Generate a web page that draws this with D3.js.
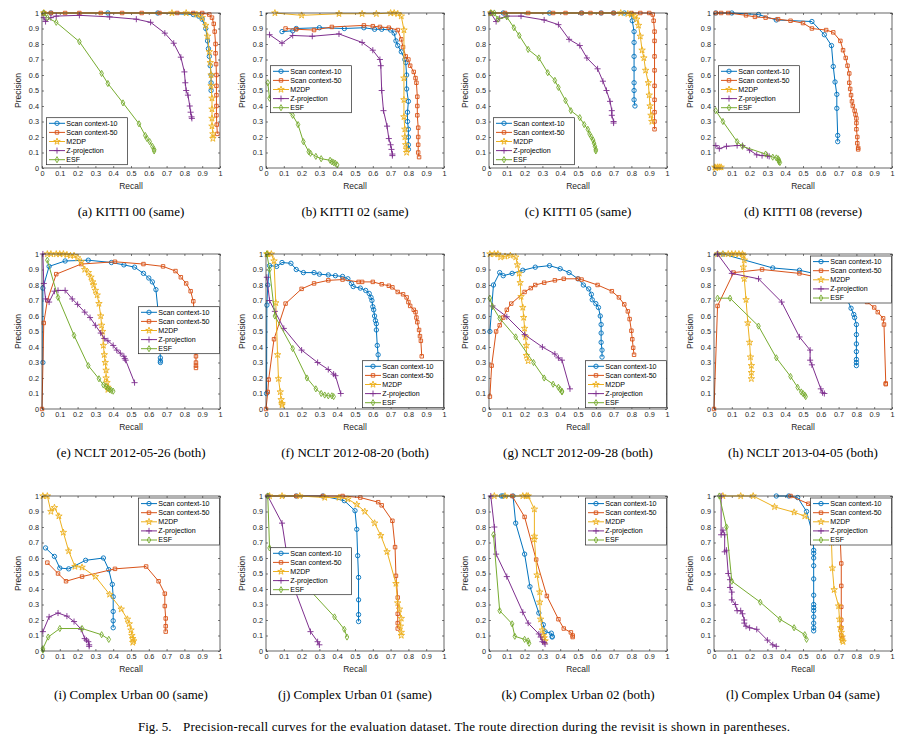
<!DOCTYPE html>
<html><head><meta charset="utf-8">
<script src="https://cdn.jsdelivr.net/npm/d3@7"></script>
<style>body{margin:0;background:#fff}svg{display:block}</style>
</head><body>
<svg id="chart" width="917" height="737"></svg>
<script>
// ---------- data ----------
const seriesNames = ["Scan context-10","Scan context-50","M2DP","Z-projection","ESF"];
const tickValues = [0,0.1,0.2,0.3,0.4,0.5,0.6,0.7,0.8,0.9,1];
const tickLabels = ["0","0.1","0.2","0.3","0.4","0.5","0.6","0.7","0.8","0.9","1"];
const captions = ["(a) KITTI 00 (same)","(b) KITTI 02 (same)","(c) KITTI 05 (same)","(d) KITTI 08 (reverse)",
 "(e) NCLT 2012-05-26 (both)","(f) NCLT 2012-08-20 (both)","(g) NCLT 2012-09-28 (both)","(h) NCLT 2013-04-05 (both)",
 "(i) Complex Urban 00 (same)","(j) Complex Urban 01 (same)","(k) Complex Urban 02 (both)","(l) Complex Urban 04 (same)"];
const figLabel = "Fig. 5.";
const figCaption = "Precision-recall curves for the evaluation dataset. The route direction during the revisit is shown in parentheses.";

// (a) KITTI 00
const a_sc10 = [[0.01,1],[0.05,1],[0.37,1],[0.65,1],[0.85,0.99],[0.88,0.98],[0.9,0.96],[0.92,0.9],[0.93,0.82],[0.935,0.77],[0.94,0.72],[0.945,0.66],[0.95,0.6],[0.95,0.55],[0.95,0.5]];
const a_sc50 = [[0.01,1],[0.05,1],[0.13,1],[0.21,1],[0.33,1],[0.45,1],[0.56,1],[0.66,1],[0.76,1],[0.85,1],[0.9,1],[0.94,0.99],[0.955,0.97],[0.965,0.93],[0.97,0.88],[0.975,0.8],[0.975,0.74],[0.978,0.67],[0.98,0.6],[0.98,0.53],[0.98,0.47],[0.98,0.4],[0.98,0.34],[0.982,0.28],[0.985,0.22]];
const a_m2dp = [[0.01,1],[0.73,1],[0.81,1],[0.87,0.99],[0.9,0.97],[0.92,0.92],[0.93,0.85],[0.94,0.75],[0.945,0.68],[0.95,0.6],[0.95,0.53],[0.955,0.45],[0.955,0.38],[0.955,0.32],[0.955,0.27],[0.96,0.22],[0.96,0.19]];
const a_zproj = [[0.01,0.97],[0.02,0.945],[0.05,0.97],[0.08,0.98],[0.21,0.985],[0.38,0.975],[0.53,0.96],[0.61,0.94],[0.69,0.87],[0.74,0.805],[0.78,0.715],[0.8,0.62],[0.805,0.55],[0.81,0.5],[0.82,0.47],[0.83,0.4],[0.835,0.36],[0.84,0.33],[0.842,0.32]];
const a_esf = [[0.01,1],[0.03,0.97],[0.08,0.94],[0.21,0.815],[0.335,0.61],[0.37,0.545],[0.455,0.42],[0.545,0.285],[0.58,0.21],[0.59,0.19],[0.605,0.17],[0.62,0.14],[0.63,0.12],[0.63,0.11]];
// (b) KITTI 02
const b_sc10 = [[0.09,0.88],[0.15,0.885],[0.17,0.9],[0.3,0.905],[0.44,0.9],[0.55,0.905],[0.61,0.895],[0.65,0.895],[0.7,0.89],[0.72,0.87],[0.73,0.82],[0.74,0.79],[0.76,0.75],[0.78,0.7],[0.785,0.68],[0.79,0.6],[0.79,0.51],[0.8,0.43],[0.795,0.36],[0.795,0.3],[0.8,0.25],[0.8,0.2],[0.8,0.15],[0.8,0.12]];
const b_sc50 = [[0.11,0.9],[0.17,0.895],[0.27,0.89],[0.37,0.91],[0.55,0.92],[0.6,0.915],[0.64,0.91],[0.69,0.905],[0.74,0.89],[0.76,0.83],[0.77,0.78],[0.785,0.72],[0.8,0.7],[0.81,0.66],[0.83,0.62],[0.84,0.58],[0.845,0.55],[0.85,0.46],[0.85,0.4],[0.85,0.34],[0.855,0.26],[0.855,0.2],[0.855,0.15],[0.855,0.1],[0.86,0.07]];
const b_m2dp = [[0.05,1],[0.2,0.985],[0.41,0.995],[0.54,0.995],[0.62,0.995],[0.7,1],[0.72,1],[0.74,0.995],[0.76,0.98],[0.775,0.89],[0.775,0.58],[0.775,0.44],[0.775,0.33],[0.78,0.25],[0.78,0.2],[0.785,0.15],[0.79,0.12],[0.79,0.1]];
const b_zproj = [[0.02,0.86],[0.09,0.805],[0.15,0.855],[0.26,0.85],[0.41,0.865],[0.54,0.81],[0.6,0.76],[0.64,0.7],[0.645,0.66],[0.65,0.5],[0.66,0.37],[0.68,0.27],[0.69,0.19],[0.7,0.15],[0.705,0.12],[0.71,0.09],[0.71,0.08]];
const b_esf = [[0.01,0.55],[0.02,0.45],[0.15,0.34],[0.18,0.28],[0.21,0.17],[0.24,0.105],[0.25,0.095],[0.28,0.075],[0.31,0.06],[0.36,0.05],[0.37,0.04],[0.38,0.035],[0.39,0.03],[0.4,0.02]];
// (c) KITTI 05
const c_sc10 = [[0.01,1],[0.08,1],[0.34,1],[0.52,1],[0.63,1],[0.7,1],[0.76,1],[0.8,0.995],[0.805,0.95],[0.815,0.88],[0.815,0.81],[0.815,0.72],[0.815,0.64],[0.815,0.55],[0.815,0.5],[0.815,0.44],[0.82,0.4]];
const c_sc50 = [[0.01,1],[0.09,1],[0.22,1],[0.36,1],[0.43,1],[0.52,1],[0.57,1],[0.63,1],[0.7,1],[0.8,1],[0.85,1],[0.9,1],[0.92,0.99],[0.925,0.95],[0.93,0.88],[0.93,0.82],[0.93,0.72],[0.93,0.63],[0.93,0.53],[0.93,0.44],[0.93,0.36],[0.93,0.3],[0.93,0.25]];
const c_m2dp = [[0.01,1],[0.74,1],[0.78,0.995],[0.8,0.99],[0.82,0.98],[0.83,0.96],[0.84,0.92],[0.85,0.85],[0.86,0.76],[0.87,0.71],[0.88,0.63],[0.895,0.55],[0.9,0.47],[0.905,0.4],[0.91,0.34],[0.915,0.3]];
const c_zproj = [[0.01,1],[0.04,0.945],[0.06,0.965],[0.1,0.98],[0.18,0.98],[0.31,0.955],[0.39,0.925],[0.45,0.83],[0.51,0.79],[0.55,0.71],[0.61,0.64],[0.64,0.56],[0.66,0.5],[0.68,0.43],[0.69,0.37],[0.69,0.34],[0.7,0.3],[0.7,0.29]];
const c_esf = [[0.01,1],[0.03,1],[0.05,0.96],[0.1,0.975],[0.14,0.905],[0.17,0.855],[0.22,0.765],[0.28,0.71],[0.33,0.615],[0.37,0.565],[0.39,0.52],[0.43,0.435],[0.46,0.37],[0.51,0.325],[0.535,0.28],[0.555,0.25],[0.565,0.22],[0.575,0.2],[0.585,0.18],[0.59,0.16],[0.595,0.14],[0.6,0.12],[0.6,0.11]];
// (d) KITTI 08
const d_sc10 = [[0.01,1],[0.1,1],[0.25,0.99],[0.35,0.955],[0.55,0.945],[0.62,0.86],[0.66,0.79],[0.67,0.655],[0.68,0.555],[0.69,0.475],[0.69,0.385],[0.695,0.21],[0.695,0.17]];
const d_sc50 = [[0.01,1],[0.04,1],[0.08,1],[0.18,0.985],[0.23,0.975],[0.29,0.97],[0.36,0.96],[0.43,0.95],[0.5,0.935],[0.55,0.9],[0.63,0.89],[0.67,0.875],[0.71,0.82],[0.725,0.76],[0.74,0.71],[0.75,0.66],[0.76,0.61],[0.76,0.55],[0.765,0.51],[0.77,0.47],[0.775,0.43],[0.78,0.4],[0.79,0.37],[0.795,0.345],[0.8,0.32],[0.8,0.29],[0.8,0.25],[0.805,0.2],[0.805,0.16],[0.81,0.13],[0.81,0.12]];
const d_m2dp = [[0.005,0.005],[0.01,0],[0.02,0.005],[0.03,0.005],[0.04,0.005]];
const d_zproj = [[0.01,0.145],[0.03,0.125],[0.07,0.14],[0.13,0.145],[0.16,0.145],[0.2,0.115],[0.24,0.085],[0.27,0.08],[0.3,0.08],[0.31,0.075]];
const d_esf = [[0.01,0.37],[0.05,0.3],[0.13,0.17],[0.16,0.14],[0.29,0.09],[0.33,0.07],[0.35,0.065],[0.36,0.06],[0.365,0.05],[0.365,0.04],[0.37,0.035]];
// (e) NCLT 2012-05-26
const e_sc10 = [[0.005,0.3],[0.005,0.78],[0.04,0.92],[0.13,0.955],[0.26,0.96],[0.39,0.945],[0.46,0.93],[0.52,0.915],[0.57,0.875],[0.6,0.845],[0.62,0.82],[0.64,0.77],[0.655,0.6],[0.66,0.45],[0.665,0.33],[0.665,0.31],[0.665,0.3]];
const e_sc50 = [[0,0],[0.01,0.555],[0.03,0.7],[0.08,0.87],[0.22,0.935],[0.41,0.95],[0.57,0.935],[0.68,0.92],[0.75,0.89],[0.78,0.85],[0.81,0.81],[0.835,0.76],[0.85,0.695],[0.86,0.55],[0.865,0.34],[0.865,0.3],[0.865,0.28],[0.865,0.265]];
const e_m2dp = [[0.03,1],[0.05,1],[0.08,1],[0.1,1],[0.12,1],[0.14,0.995],[0.16,0.99],[0.18,0.99],[0.2,0.975],[0.22,0.95],[0.24,0.9],[0.26,0.88],[0.275,0.85],[0.285,0.82],[0.29,0.8],[0.3,0.765],[0.31,0.735],[0.32,0.68],[0.33,0.6],[0.335,0.54],[0.34,0.5],[0.345,0.41],[0.35,0.35],[0.355,0.3],[0.36,0.25],[0.36,0.2],[0.365,0.17],[0.37,0.14],[0.37,0.125]];
const e_zproj = [[0.005,1],[0.01,0.81],[0.02,0.71],[0.04,0.69],[0.07,0.76],[0.09,0.765],[0.13,0.765],[0.17,0.71],[0.2,0.675],[0.24,0.625],[0.27,0.59],[0.3,0.54],[0.33,0.49],[0.35,0.455],[0.37,0.44],[0.4,0.41],[0.42,0.38],[0.44,0.36],[0.46,0.34],[0.465,0.325],[0.47,0.315],[0.52,0.17]];
const e_esf = [[0.03,0.96],[0.09,0.72],[0.18,0.475],[0.26,0.28],[0.32,0.195],[0.345,0.155],[0.36,0.145],[0.37,0.135],[0.38,0.125],[0.39,0.12],[0.4,0.115]];
// (f) NCLT 2012-08-20
const f_sc10 = [[0.003,0.1],[0.005,0.67],[0.01,0.8],[0.02,0.925],[0.06,0.92],[0.09,0.945],[0.14,0.94],[0.17,0.9],[0.21,0.88],[0.27,0.88],[0.3,0.87],[0.35,0.865],[0.39,0.86],[0.43,0.855],[0.46,0.84],[0.48,0.81],[0.49,0.79],[0.53,0.78],[0.56,0.765],[0.58,0.745],[0.59,0.72],[0.595,0.7],[0.6,0.66],[0.605,0.64],[0.61,0.6],[0.615,0.57],[0.62,0.55],[0.62,0.51],[0.625,0.41],[0.63,0.35],[0.63,0.3]];
const f_sc50 = [[0,0],[0.01,0.11],[0.015,0.19],[0.045,0.45],[0.11,0.68],[0.2,0.775],[0.27,0.81],[0.35,0.83],[0.43,0.835],[0.52,0.82],[0.54,0.82],[0.6,0.82],[0.65,0.805],[0.69,0.795],[0.71,0.785],[0.74,0.755],[0.77,0.74],[0.79,0.72],[0.8,0.69],[0.81,0.665],[0.83,0.64],[0.84,0.625],[0.845,0.59],[0.85,0.56],[0.86,0.51],[0.865,0.47],[0.87,0.44],[0.875,0.34]];
const f_m2dp = [[0.005,1],[0.01,1],[0.03,1],[0.045,0.955],[0.055,0.685],[0.065,0.35],[0.07,0.195],[0.08,0.11],[0.085,0.06],[0.09,0.035],[0.09,0.025]];
const f_zproj = [[0.005,0.85],[0.02,0.7],[0.05,0.63],[0.1,0.52],[0.2,0.38],[0.29,0.3],[0.35,0.255],[0.38,0.225],[0.39,0.215],[0.42,0.1]];
const f_esf = [[0.005,1],[0.02,0.9],[0.05,0.6],[0.15,0.39],[0.23,0.2],[0.28,0.13],[0.31,0.1],[0.33,0.09],[0.35,0.085],[0.37,0.085],[0.38,0.08]];
// (g) NCLT 2012-09-28
const g_sc10 = [[0.005,0.5],[0.025,0.8],[0.06,0.88],[0.08,0.86],[0.13,0.875],[0.19,0.895],[0.26,0.915],[0.34,0.925],[0.4,0.905],[0.45,0.88],[0.5,0.84],[0.53,0.8],[0.56,0.775],[0.575,0.74],[0.58,0.705],[0.6,0.68],[0.615,0.655],[0.625,0.6],[0.63,0.545],[0.63,0.49],[0.63,0.43],[0.635,0.38],[0.635,0.335]];
const g_sc50 = [[0.005,0.08],[0.015,0.28],[0.04,0.5],[0.06,0.54],[0.08,0.59],[0.1,0.64],[0.125,0.68],[0.2,0.755],[0.235,0.78],[0.26,0.8],[0.31,0.815],[0.37,0.83],[0.42,0.84],[0.5,0.84],[0.52,0.835],[0.61,0.8],[0.69,0.76],[0.73,0.72],[0.76,0.675],[0.78,0.63],[0.79,0.58],[0.8,0.505],[0.805,0.45],[0.81,0.395],[0.815,0.35]];
const g_m2dp = [[0.005,1],[0.03,1],[0.05,1],[0.065,0.98],[0.09,0.985],[0.12,0.99],[0.15,0.98],[0.16,0.93],[0.17,0.875],[0.175,0.815],[0.18,0.725],[0.19,0.655],[0.195,0.59],[0.2,0.52],[0.205,0.465],[0.21,0.41],[0.21,0.345],[0.22,0.31]];
const g_zproj = [[0.02,0.665],[0.1,0.595],[0.2,0.48],[0.3,0.4],[0.37,0.355],[0.39,0.33],[0.41,0.315],[0.455,0.13]];
const g_esf = [[0.005,0.715],[0.02,0.66],[0.06,0.585],[0.15,0.465],[0.25,0.3],[0.31,0.2],[0.36,0.16],[0.39,0.14],[0.4,0.125],[0.41,0.115],[0.41,0.11]];
// (h) NCLT 2013-04-05
const h_sc10 = [[0.02,1],[0.05,1],[0.33,0.91],[0.48,0.895],[0.62,0.86],[0.72,0.78],[0.77,0.65],[0.785,0.61],[0.79,0.59],[0.8,0.545],[0.8,0.48],[0.8,0.42],[0.8,0.37],[0.8,0.32],[0.8,0.3],[0.8,0.28]];
const h_sc50 = [[0,0],[0.02,0.665],[0.11,0.88],[0.27,0.9],[0.48,0.875],[0.62,0.84],[0.78,0.75],[0.86,0.69],[0.9,0.655],[0.92,0.625],[0.95,0.585],[0.955,0.545],[0.965,0.165],[0.965,0.16]];
const h_m2dp = [[0.02,1],[0.05,1],[0.08,1],[0.1,1],[0.12,1],[0.14,1],[0.16,1],[0.165,0.99],[0.17,0.96],[0.165,0.915],[0.17,0.84],[0.18,0.705],[0.19,0.555],[0.2,0.43],[0.205,0.335],[0.21,0.28],[0.21,0.235],[0.21,0.195]];
const h_zproj = [[0.02,1],[0.1,0.875],[0.25,0.84],[0.38,0.69],[0.48,0.465],[0.54,0.38],[0.54,0.315],[0.55,0.285],[0.6,0.13],[0.61,0.105],[0.62,0.1]];
const h_esf = [[0.02,0.715],[0.09,0.715],[0.25,0.535],[0.35,0.33],[0.43,0.21],[0.47,0.14],[0.49,0.11],[0.5,0.1],[0.51,0.09],[0.515,0.08]];
// (i) Complex Urban 00
const i_sc10 = [[0.02,0.665],[0.07,0.61],[0.1,0.535],[0.15,0.53],[0.245,0.585],[0.345,0.6],[0.375,0.525],[0.395,0.43],[0.4,0.35],[0.4,0.255],[0.4,0.195],[0.4,0.15]];
const i_sc50 = [[0.03,0.57],[0.09,0.5],[0.135,0.45],[0.225,0.48],[0.41,0.53],[0.585,0.545],[0.655,0.45],[0.69,0.37],[0.69,0.29],[0.695,0.21],[0.695,0.16],[0.695,0.125]];
const i_m2dp = [[0.005,1],[0.03,1],[0.05,0.9],[0.07,0.925],[0.095,0.87],[0.12,0.765],[0.15,0.645],[0.185,0.545],[0.225,0.54],[0.3,0.48],[0.38,0.365],[0.445,0.27],[0.48,0.205],[0.49,0.175],[0.5,0.135],[0.505,0.1],[0.51,0.08],[0.515,0.065],[0.51,0.055]];
const i_zproj = [[0.005,0.125],[0.04,0.22],[0.09,0.245],[0.14,0.225],[0.18,0.19],[0.22,0.14],[0.24,0.08],[0.25,0.07],[0.26,0.06],[0.265,0.04],[0.265,0.03]];
const i_esf = [[0.005,0.005],[0.005,0.015],[0.035,0.09],[0.1,0.145],[0.225,0.145],[0.335,0.105],[0.375,0.075]];
// (j) Complex Urban 01
const j_sc10 = [[0.01,1],[0.17,1],[0.32,1],[0.44,0.97],[0.5,0.905],[0.51,0.785],[0.515,0.615],[0.52,0.475],[0.52,0.33],[0.52,0.235],[0.52,0.19]];
const j_sc50 = [[0.01,1],[0.17,1],[0.32,1],[0.43,1],[0.53,0.99],[0.63,0.96],[0.65,0.94],[0.71,0.84],[0.725,0.67],[0.73,0.485],[0.74,0.345],[0.74,0.24],[0.74,0.18],[0.74,0.145]];
const j_m2dp = [[0.02,1],[0.09,1],[0.19,1],[0.33,0.99],[0.41,0.99],[0.46,0.98],[0.51,0.945],[0.555,0.9],[0.61,0.825],[0.645,0.745],[0.68,0.64],[0.73,0.435],[0.74,0.31],[0.75,0.27],[0.76,0.21],[0.755,0.16],[0.76,0.12],[0.76,0.1]];
const j_zproj = [[0.01,1],[0.09,0.825],[0.12,0.6],[0.16,0.4],[0.25,0.125],[0.29,0.06],[0.3,0.04]];
const j_esf = [[0.01,1],[0.02,0.665],[0.2,0.45],[0.385,0.22],[0.44,0.14],[0.455,0.09]];
// (k) Complex Urban 02
const k_sc10 = [[0.07,1],[0.08,1],[0.135,1],[0.15,0.825],[0.2,0.625],[0.23,0.415],[0.28,0.245],[0.305,0.17],[0.315,0.125],[0.35,0.115],[0.355,0.095],[0.355,0.09]];
const k_sc50 = [[0.13,1],[0.2,0.865],[0.265,0.59],[0.325,0.355],[0.39,0.205],[0.42,0.145],[0.46,0.12],[0.47,0.1],[0.47,0.09]];
const k_m2dp = [[0.03,1],[0.09,1],[0.19,1],[0.21,1],[0.22,1],[0.255,0.915],[0.255,0.74],[0.255,0.72],[0.27,0.49],[0.285,0.38],[0.285,0.315],[0.29,0.205],[0.3,0.135],[0.305,0.1],[0.31,0.085],[0.315,0.065]];
const k_zproj = [[0.01,1],[0.03,0.8],[0.04,0.625],[0.1,0.48],[0.19,0.25],[0.22,0.18],[0.28,0.11],[0.29,0.09],[0.3,0.06],[0.31,0.055],[0.315,0.045]];
const k_esf = [[0.025,0.75],[0.06,0.26],[0.13,0.175],[0.145,0.095],[0.2,0.075],[0.22,0.065],[0.225,0.05]];
// (l) Complex Urban 04
const l_sc10 = [[0.35,1],[0.42,1],[0.47,0.99],[0.52,0.9],[0.555,0.75],[0.56,0.65],[0.56,0.63],[0.56,0.6],[0.56,0.55],[0.56,0.465],[0.56,0.36],[0.56,0.3],[0.56,0.28],[0.56,0.26],[0.56,0.22],[0.56,0.18],[0.56,0.15],[0.56,0.13]];
const l_sc50 = [[0.43,1],[0.53,0.95],[0.65,0.85],[0.71,0.7],[0.715,0.565],[0.715,0.42],[0.715,0.285],[0.715,0.2],[0.715,0.15],[0.715,0.1],[0.72,0.08]];
const l_m2dp = [[0.05,1],[0.15,1],[0.22,1],[0.34,0.93],[0.45,0.895],[0.51,0.87],[0.6,0.8],[0.66,0.7],[0.665,0.535],[0.675,0.395],[0.7,0.29],[0.705,0.205],[0.71,0.15],[0.715,0.12],[0.72,0.09],[0.72,0.07],[0.725,0.06]];
const l_zproj = [[0.04,1],[0.04,0.75],[0.05,0.78],[0.06,0.75],[0.06,0.64],[0.07,0.65],[0.08,0.5],[0.09,0.46],[0.09,0.41],[0.1,0.38],[0.1,0.33],[0.12,0.3],[0.13,0.26],[0.15,0.26],[0.16,0.24],[0.17,0.2],[0.17,0.18],[0.18,0.16],[0.2,0.15],[0.24,0.14],[0.3,0.07],[0.33,0.04],[0.35,0.03]];
const l_esf = [[0.03,1],[0.07,0.8],[0.1,0.45],[0.26,0.315],[0.37,0.205],[0.45,0.15],[0.51,0.105],[0.52,0.075]];

const panelSeries = [
 [a_sc10,a_sc50,a_m2dp,a_zproj,a_esf],[b_sc10,b_sc50,b_m2dp,b_zproj,b_esf],
 [c_sc10,c_sc50,c_m2dp,c_zproj,c_esf],[d_sc10,d_sc50,d_m2dp,d_zproj,d_esf],
 [e_sc10,e_sc50,e_m2dp,e_zproj,e_esf],[f_sc10,f_sc50,f_m2dp,f_zproj,f_esf],
 [g_sc10,g_sc50,g_m2dp,g_zproj,g_esf],[h_sc10,h_sc50,h_m2dp,h_zproj,h_esf],
 [i_sc10,i_sc50,i_m2dp,i_zproj,i_esf],[j_sc10,j_sc50,j_m2dp,j_zproj,j_esf],
 [k_sc10,k_sc50,k_m2dp,k_zproj,k_esf],[l_sc10,l_sc50,l_m2dp,l_zproj,l_esf]];

// ---------- layout / style ----------
const colors = ["#0072BD","#D95319","#EDB120","#7E2F8E","#77AC30"];
const symbols = [d3.symbolCircle, d3.symbolSquare, d3.symbolStar, d3.symbolPlus, d3.symbolDiamond];
const symSizes = [15, 12, 13, 14, 11];
const colX = [42, 266, 489, 714];
const rowY = [13, 254, 496];
const W = 178, H = 155;
const legendPos = [["L",104.7],["L",52.7],["L",104.7],["L",52.7],
                   ["R",52.7],["R",106.7],["R",106.7],["R",2],
                   ["R",2],["L",51.7],["R",2],["R",2]];
const LW = 81, LH = 47;
const axCol = "#262626";
const serif = "Liberation Serif, Times New Roman, serif";
const sans = "Liberation Sans, Arial, sans-serif";

const svg = d3.select("#chart");
const x = d3.scaleLinear().domain([0,1]).range([0,W]);
const y = d3.scaleLinear().domain([0,1]).range([H,0]);
const line = d3.line().x(d=>x(d[0])).y(d=>y(d[1]));
const fmt = v => tickLabels[tickValues.indexOf(v)];

panelSeries.forEach((series, p) => {
  const g = svg.append("g").attr("transform", `translate(${colX[p%4]},${rowY[Math.floor(p/4)]})`);
  const xb = g.append("g").attr("transform",`translate(0,${H})`)
    .call(d3.axisBottom(x).tickValues(tickValues).tickFormat(fmt).tickSizeInner(-2).tickSizeOuter(0).tickPadding(3));
  const xt = g.append("g").call(d3.axisTop(x).tickValues(tickValues).tickFormat("").tickSizeInner(-2).tickSizeOuter(0));
  const yl = g.append("g").call(d3.axisLeft(y).tickValues(tickValues).tickFormat(fmt).tickSizeInner(-2).tickSizeOuter(0).tickPadding(3));
  const yr = g.append("g").attr("transform",`translate(${W},0)`).call(d3.axisRight(y).tickValues(tickValues).tickFormat("").tickSizeInner(-2).tickSizeOuter(0));
  [xb,xt,yl,yr].forEach(a => {
    a.select(".domain").remove();
    a.selectAll("line").attr("stroke", axCol).attr("stroke-width", 0.6);
    a.selectAll("text").attr("fill", axCol).attr("font-family", sans).attr("font-size", 7.3);
  });
  g.append("text").attr("x", W/2).attr("y", H+20.5).attr("text-anchor","middle")
    .attr("font-family", sans).attr("font-size", 8.5).attr("fill", axCol).text("Recall");
  g.append("text").attr("transform",`translate(${-21},${H/2}) rotate(-90)`).attr("text-anchor","middle")
    .attr("font-family", sans).attr("font-size", 8.5).attr("fill", axCol).text("Precision");

  series.forEach((pts, s) => {
    g.append("path").attr("d", line(pts)).attr("fill","none").attr("stroke", colors[s]).attr("stroke-width", 1);
    g.selectAll(null).data(pts).enter().append("path")
      .attr("transform", d => `translate(${x(d[0])},${y(d[1])})`)
      .attr("d", d3.symbol(symbols[s], symSizes[s]))
      .attr("fill","none").attr("stroke", colors[s]).attr("stroke-width", 0.9);
  });

  g.append("rect").attr("width", W).attr("height", H).attr("fill","none").attr("stroke", axCol).attr("stroke-width", 0.7);

  const lp = legendPos[p];
  const lx = lp[0] === "L" ? 4.5 : W - LW - 0.5;
  const lg = g.append("g").attr("transform", `translate(${lx},${lp[1]})`);
  lg.append("rect").attr("width", LW).attr("height", LH).attr("fill","#fff").attr("stroke", axCol).attr("stroke-width", 0.7);
  seriesNames.forEach((nm, s) => {
    const ry = 5.6 + s*9.1;
    lg.append("line").attr("x1", 2.5).attr("x2", 18.5).attr("y1", ry).attr("y2", ry).attr("stroke", colors[s]).attr("stroke-width", 1);
    lg.append("path").attr("transform", `translate(10.5,${ry})`).attr("d", d3.symbol(symbols[s], symSizes[s]))
      .attr("fill","none").attr("stroke", colors[s]).attr("stroke-width", 0.9);
    lg.append("text").attr("x", 19.8).attr("y", ry).attr("dy","0.35em")
      .attr("font-family", sans).attr("font-size", 7.1).attr("fill", "#000").text(nm);
  });

  g.append("text").attr("x", W/2).attr("y", 203).attr("text-anchor","middle")
    .attr("font-family", serif).attr("font-size", 13).attr("fill","#000").text(captions[p]);
});

svg.append("text").attr("x", 138).attr("y", 731)
  .attr("font-family", serif).attr("font-size", 13).attr("fill","#000").text(figLabel);
svg.append("text").attr("x", 183).attr("y", 731)
  .attr("font-family", serif).attr("font-size", 13).attr("fill","#000")
  .attr("textLength", 607).attr("lengthAdjust","spacing").text(figCaption);
</script>
</body></html>
